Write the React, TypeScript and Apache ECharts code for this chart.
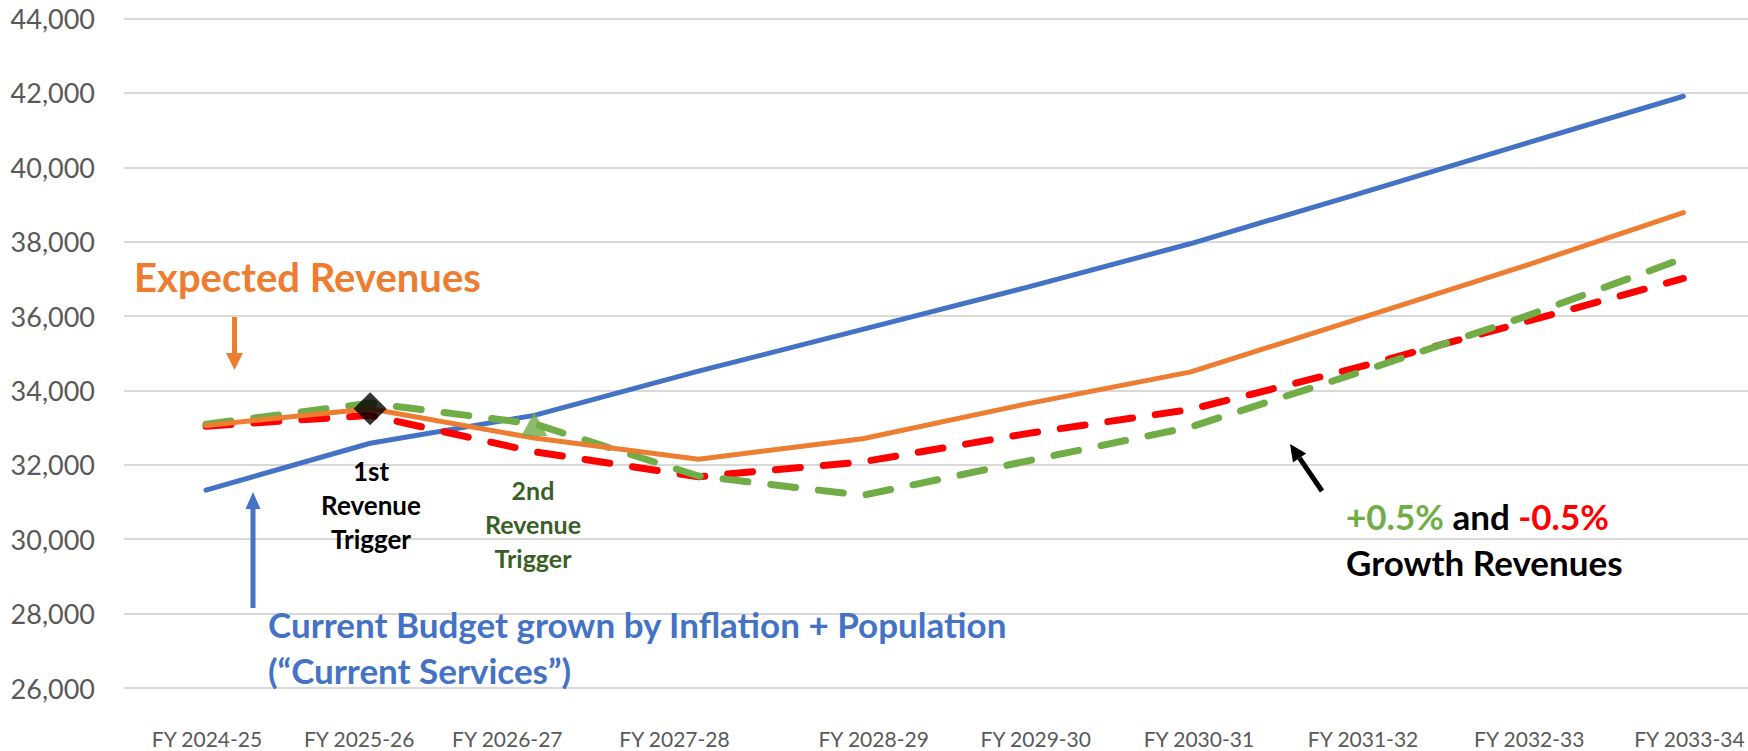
import React, { useEffect, useRef } from "react";
import * as echarts from "echarts";

// ---- data ----
const categories = [
  "FY 2024-25", "FY 2025-26", "FY 2026-27", "FY 2027-28", "FY 2028-29",
  "FY 2029-30", "FY 2030-31", "FY 2031-32", "FY 2032-33", "FY 2033-34",
];
const currentServices = [31320, 32580, 33330, 34520, 35640, 36770, 37950, 39260, 40590, 41910];
const expectedRevenues = [33060, 33510, 32720, 32150, 32700, 33640, 34500, 35900, 37300, 38780];
const plusHalfPct = [33090, 33660, 33100, 31700, 31180, 32100, 33020, 34450, 35930, 37550];
const minusHalfPct = [33040, 33330, 32350, 31680, 32080, 32840, 33490, 34600, 35800, 37010];
const yMin = 26000;
const yMax = 44000;
const yStep = 2000;
const firstTriggerIndex = 1;
const secondTriggerIndex = 2;
// horizontal nudges (px) of the category labels, as placed in the original
const labelNudge = [1, -11, -27, -24, 11, 9, 8, 8, 10, 6];

const FONT = "Lato, 'Open Sans', sans-serif";
const BLUE = "#4472C4";
const ORANGE = "#ED7D31";
const GREEN = "#70AD47";
const RED = "#FF0000";
const DARKGREEN = "#3A5F26";

function arrowGraphic(tail: number[], tip: number[], color: string, width: number, headLen: number, headHalf: number) {
  const dx = tip[0] - tail[0];
  const dy = tip[1] - tail[1];
  const len = Math.sqrt(dx * dx + dy * dy);
  const ux = dx / len;
  const uy = dy / len;
  const bx = tip[0] - ux * headLen;
  const by = tip[1] - uy * headLen;
  const nx = -uy;
  const ny = ux;
  return [
    {
      type: "line",
      shape: { x1: tail[0], y1: tail[1], x2: bx, y2: by },
      style: { stroke: color, lineWidth: width },
      z: 100,
    },
    {
      type: "polygon",
      shape: {
        points: [
          [tip[0], tip[1]],
          [bx + nx * headHalf, by + ny * headHalf],
          [bx - nx * headHalf, by - ny * headHalf],
        ],
      },
      style: { fill: color },
      z: 100,
    },
  ];
}

export default function App() {
  const ref = useRef<HTMLDivElement>(null);

  useEffect(() => {
    document.body.style.margin = "0";
    const chart = echarts.init(ref.current!, null, { renderer: "svg" });

    const rich: Record<string, any> = {};
    labelNudge.forEach((dx, i) => {
      rich["l" + i] = {
        fontFamily: FONT,
        fontSize: 21,
        color: "#595959",
        lineHeight: 23,
        padding: [0, dx < 0 ? -2 * dx : 0, 0, dx > 0 ? 2 * dx : 0],
      };
    });

    const gridTop = 18.5;
    const gridBottom = 63;

    const option: any = {
      animation: false,
      backgroundColor: "#ffffff",
      grid: [
        { left: 124, right: 0, top: gridTop, bottom: gridBottom },
        { left: 206, right: 60, top: gridTop, bottom: gridBottom },
      ],
      xAxis: [
        { gridIndex: 0, type: "value", min: 0, max: 1, show: false },
        {
          gridIndex: 1,
          type: "category",
          boundaryGap: false,
          data: categories,
          axisLine: { show: false },
          axisTick: { show: false },
          splitLine: { show: false },
          axisLabel: {
            interval: 0,
            margin: 39,
            formatter: (v: string, i: number) => `{l${i}|${v}}`,
            rich,
          },
        },
      ],
      yAxis: [
        {
          gridIndex: 0,
          type: "value",
          min: yMin,
          max: yMax,
          interval: yStep,
          axisLine: { show: false },
          axisTick: { show: false },
          axisLabel: {
            fontFamily: FONT,
            fontSize: 27,
            color: "#595959",
            margin: 29,
            formatter: (v: number) => v.toLocaleString("en-US"),
          },
          splitLine: { lineStyle: { color: "#D9D9D9", width: 2 } },
        },
        {
          gridIndex: 1,
          type: "value",
          min: yMin,
          max: yMax,
          interval: yStep,
          show: false,
          splitLine: { show: false },
        },
      ],
      series: [
        {
          name: "Current Services",
          type: "line",
          xAxisIndex: 1,
          yAxisIndex: 1,
          data: currentServices,
          symbol: "none",
          lineStyle: { color: BLUE, width: 5, cap: "round", join: "round" },
          z: 2,
        },
        {
          name: "-0.5% Growth",
          type: "line",
          xAxisIndex: 1,
          yAxisIndex: 1,
          data: minusHalfPct,
          symbol: "none",
          lineStyle: { color: RED, width: 7, type: [25, 23], cap: "round", join: "round" },
          z: 3,
        },
        {
          name: "+0.5% Growth",
          type: "line",
          xAxisIndex: 1,
          yAxisIndex: 1,
          data: plusHalfPct,
          symbol: "none",
          lineStyle: { color: GREEN, width: 7, type: [25, 23], cap: "round", join: "round" },
          z: 4,
        },
        {
          name: "Expected Revenues",
          type: "line",
          xAxisIndex: 1,
          yAxisIndex: 1,
          data: expectedRevenues,
          symbol: "none",
          lineStyle: { color: ORANGE, width: 5, cap: "round", join: "round" },
          z: 5,
        },
        {
          name: "1st Trigger",
          type: "scatter",
          xAxisIndex: 1,
          yAxisIndex: 1,
          data: [[firstTriggerIndex, expectedRevenues[firstTriggerIndex]]],
          symbol: "diamond",
          symbolSize: [33, 33],
          itemStyle: { color: "#000000" },
          z: 10,
        },
        {
          name: "2nd Trigger",
          type: "scatter",
          xAxisIndex: 1,
          yAxisIndex: 1,
          data: [[secondTriggerIndex, plusHalfPct[secondTriggerIndex]]],
          symbol: "triangle",
          symbolSize: [26, 24],
          itemStyle: { color: GREEN },
          z: 10,
        },
      ],
      graphic: [
        {
          type: "text",
          left: 134,
          top: 257,
          style: { text: "Expected Revenues", fill: ORANGE, font: `bold 40px ${FONT}` },
          z: 100,
        },
        ...arrowGraphic([234.5, 317], [234.5, 370], ORANGE, 5, 17, 8.5),
        ...arrowGraphic([253, 608], [253, 492], BLUE, 5, 17, 7.5),
        ...arrowGraphic([1322, 491], [1290, 444], "#000000", 5, 17, 8),
        {
          type: "text",
          x: 371,
          y: 454,
          style: {
            text: "1st\nRevenue\nTrigger",
            fill: "#000000",
            font: `bold 26px ${FONT}`,
            align: "center",
            lineHeight: 34,
          },
          z: 100,
        },
        {
          type: "text",
          x: 533,
          y: 473,
          style: {
            text: "2nd\nRevenue\nTrigger",
            fill: DARKGREEN,
            font: `bold 25px ${FONT}`,
            align: "center",
            lineHeight: 34,
          },
          z: 100,
        },
        {
          type: "text",
          x: 268,
          y: 601,
          style: {
            text: "Current Budget grown by Inflation + Population\n(\u201CCurrent Services\u201D)",
            fill: BLUE,
            font: `bold 35px ${FONT}`,
            lineHeight: 46,
          },
          z: 100,
        },
        {
          type: "text",
          x: 1346,
          y: 493,
          style: {
            text: "{g|+0.5%} {k|and} {r|-0.5%}\n{k|Growth Revenues}",
            font: `bold 35px ${FONT}`,
            rich: {
              g: { fill: GREEN, font: `bold 35px ${FONT}`, lineHeight: 46 },
              k: { fill: "#000000", font: `bold 35px ${FONT}`, lineHeight: 46 },
              r: { fill: RED, font: `bold 35px ${FONT}`, lineHeight: 46 },
            },
          },
          z: 100,
        },
      ],
    };

    chart.setOption(option);
    return () => chart.dispose();
  }, []);

  return (
    <div
      ref={ref}
      style={{ position: "fixed", left: 0, top: 0, width: 1748, height: 751, background: "#fff" }}
    />
  );
}
